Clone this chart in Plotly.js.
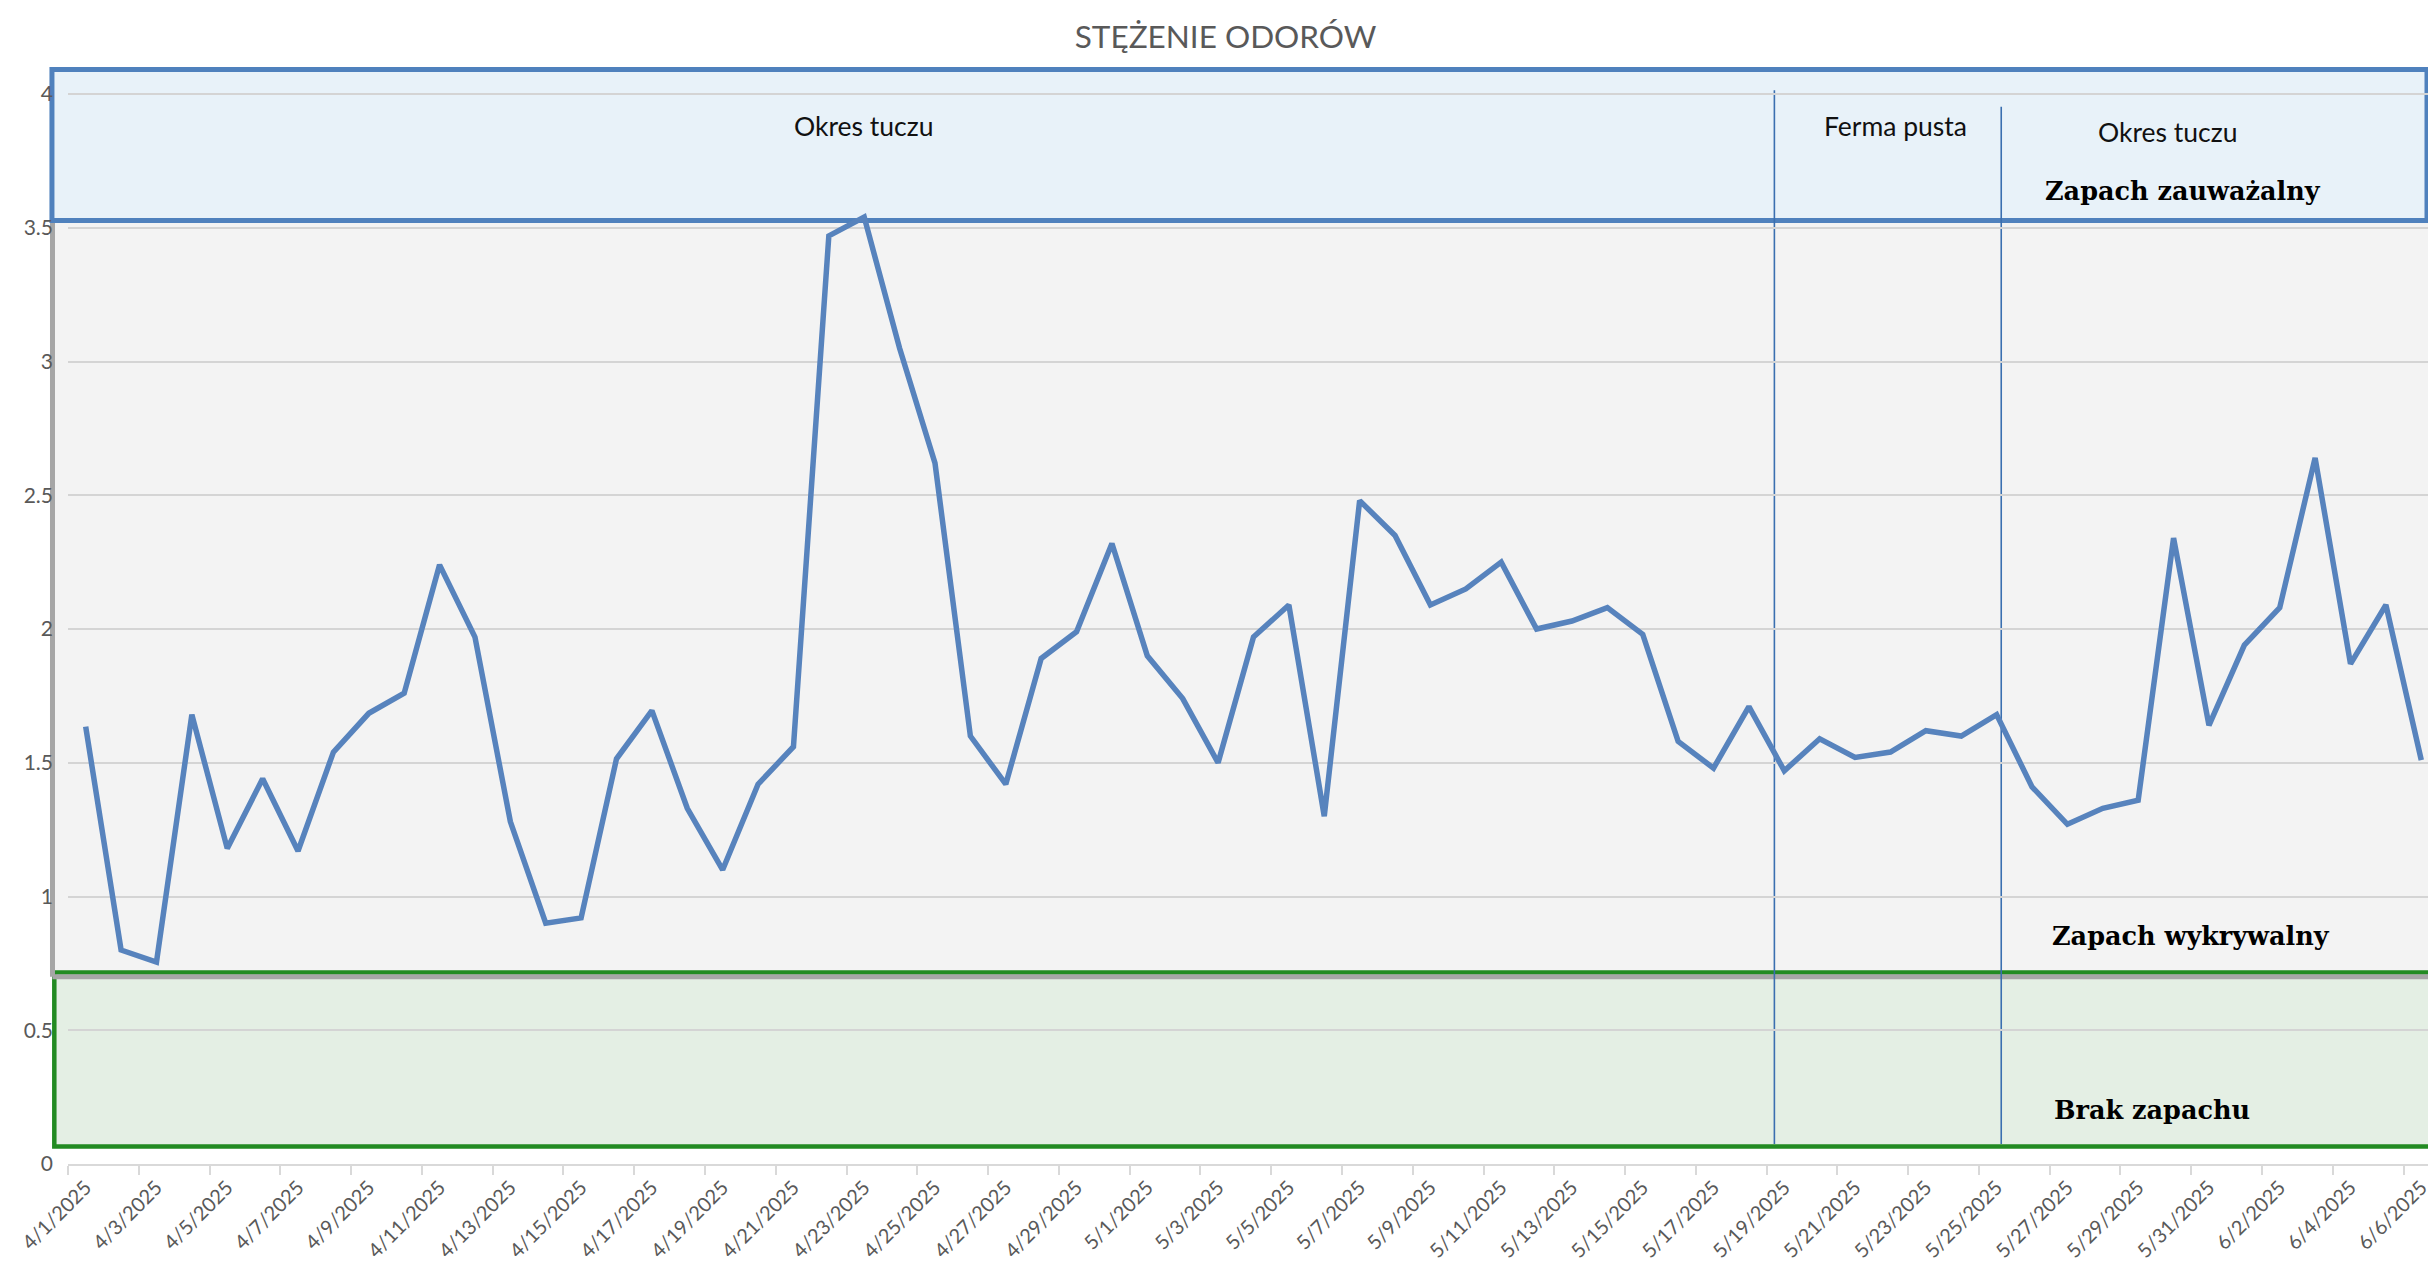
<!DOCTYPE html>
<html>
<head>
<meta charset="utf-8">
<script src="https://cdn.plot.ly/plotly-3.0.1.min.js"></script>
<style>html,body{margin:0;padding:0;background:#fff;}#chart{width:2428px;height:1267px;}</style>
</head>
<body>
<div id="chart"></div>
<script>
const dates = [
  "4/1/2025","4/2/2025","4/3/2025","4/4/2025","4/5/2025","4/6/2025","4/7/2025","4/8/2025","4/9/2025","4/10/2025",
  "4/11/2025","4/12/2025","4/13/2025","4/14/2025","4/15/2025","4/16/2025","4/17/2025","4/18/2025","4/19/2025","4/20/2025",
  "4/21/2025","4/22/2025","4/23/2025","4/24/2025","4/25/2025","4/26/2025","4/27/2025","4/28/2025","4/29/2025","4/30/2025",
  "5/1/2025","5/2/2025","5/3/2025","5/4/2025","5/5/2025","5/6/2025","5/7/2025","5/8/2025","5/9/2025","5/10/2025",
  "5/11/2025","5/12/2025","5/13/2025","5/14/2025","5/15/2025","5/16/2025","5/17/2025","5/18/2025","5/19/2025","5/20/2025",
  "5/21/2025","5/22/2025","5/23/2025","5/24/2025","5/25/2025","5/26/2025","5/27/2025","5/28/2025","5/29/2025","5/30/2025",
  "5/31/2025","6/1/2025","6/2/2025","6/3/2025","6/4/2025","6/5/2025","6/6/2025"
];
const odor = [
  1.635, 0.80, 0.755, 1.68, 1.18, 1.44, 1.17, 1.54, 1.685, 1.76,
  2.24, 1.97, 1.28, 0.90, 0.92, 1.515, 1.695, 1.33, 1.10, 1.42,
  1.56, 3.47, 3.54, 3.05, 2.62, 1.60, 1.42, 1.89, 1.99, 2.32,
  1.90, 1.74, 1.50, 1.97, 2.09, 1.30, 2.48, 2.35, 2.09, 2.15,
  2.25, 2.00, 2.03, 2.08, 1.98, 1.58, 1.48, 1.71, 1.47, 1.59,
  1.52, 1.54, 1.62, 1.60, 1.68, 1.41, 1.27, 1.33, 1.36, 2.34,
  1.64, 1.94, 2.08, 2.64, 1.87, 2.09, 1.51
];
const tickLabels = dates.filter((d, i) => i % 2 === 0);

// odour zones (y bounds)
const zoneNoticeable = [3.527, 4.092];
const zoneDetectable = [0.70, 3.527];
const zoneNone = [0.065, 0.716];
// period separators (category position)
const separators = [{x: 47.72, y1: 4.014}, {x: 54.13, y1: 3.953}];

const sansFont = "Lato, 'Open Sans', sans-serif";
const serifFont = "'DejaVu Serif', 'Liberation Serif', serif";

const trace = {
  x: dates, y: odor, type: 'scatter', mode: 'lines',
  line: {color: '#5783bd', width: 5.5},
  hoverinfo: 'x+y', showlegend: false
};

const shapes = [
  {type: 'rect', layer: 'below', xref: 'paper', yref: 'y', x0: -0.00657, x1: 1.02,
   y0: zoneDetectable[0], y1: zoneDetectable[1], fillcolor: '#f3f3f3', line: {width: 0}},
  {type: 'rect', layer: 'below', xref: 'paper', yref: 'y', x0: -0.0058, x1: 1.02,
   y0: zoneNone[0], y1: zoneNone[1], fillcolor: '#e4efe4', line: {color: '#228b22', width: 4.5}},
  {type: 'line', layer: 'below', xref: 'paper', yref: 'y', x0: -0.00657, x1: -0.00657,
   y0: zoneDetectable[0], y1: zoneDetectable[1], line: {color: '#a6a6a6', width: 5}},
  {type: 'line', layer: 'below', xref: 'paper', yref: 'y', x0: -0.00657, x1: 1.02,
   y0: zoneDetectable[0], y1: zoneDetectable[0], line: {color: '#a6a6a6', width: 5}},
  {type: 'rect', layer: 'below', xref: 'paper', yref: 'y', x0: -0.0068, x1: 0.99958,
   y0: zoneNoticeable[0], y1: zoneNoticeable[1], fillcolor: '#e8f2f9', line: {color: '#4f81bd', width: 5}}
];
separators.forEach(s => shapes.push({
  type: 'line', layer: 'below', xref: 'x', yref: 'y', x0: s.x, x1: s.x, y0: 0.075, y1: s.y1,
  line: {color: '#3a6fb0', width: 1.6}
}));

const annotations = [
  {text: 'Okres tuczu', x: 21.98, y: 3.882, font: {family: sansFont, size: 26.5, color: '#111'}},
  {text: 'Ferma pusta', x: 51.14, y: 3.882, font: {family: sansFont, size: 26.5, color: '#111'}},
  {text: 'Okres tuczu', x: 58.83, y: 3.859, font: {family: sansFont, size: 26.5, color: '#111'}},
  {text: '<b>Zapach zauważalny</b>', x: 59.28, y: 3.637, font: {family: serifFont, size: 25.5, color: '#000'}},
  {text: '<b>Zapach wykrywalny</b>', x: 59.50, y: 0.853, font: {family: serifFont, size: 25.5, color: '#000'}},
  {text: '<b>Brak zapachu</b>', x: 58.40, y: 0.202, font: {family: serifFont, size: 25.5, color: '#000'}}
].map(a => Object.assign({xref: 'x', yref: 'y', showarrow: false, xanchor: 'center', yanchor: 'middle'}, a));

const layout = {
  width: 2428, height: 1267, autosize: false,
  margin: {l: 68, r: 0, t: 62, b: 103, pad: 0},
  paper_bgcolor: '#ffffff', plot_bgcolor: 'rgba(0,0,0,0)',
  showlegend: false,
  title: {text: 'STĘŻENIE ODORÓW', x: 0.4905, xref: 'paper', xanchor: 'center',
          y: 0.9708, yref: 'container', yanchor: 'middle',
          font: {family: sansFont, size: 31.5, color: '#595959'}},
  xaxis: {
    type: 'category', range: [-0.5, 66.19], fixedrange: true,
    tickmode: 'array', tickvals: tickLabels, ticktext: tickLabels,
    tickson: 'boundaries', ticks: 'outside', ticklen: 9, tickwidth: 2, tickcolor: '#d9d9d9',
    showline: true, linecolor: '#d9d9d9', linewidth: 2,
    showgrid: false, zeroline: false, tickangle: -45, automargin: false,
    ticklabelstandoff: 2,
    tickfont: {family: sansFont, size: 20, color: '#595959'}
  },
  yaxis: {
    range: [0, 4.12], fixedrange: true, tickmode: 'linear', tick0: 0, dtick: 0.5,
    showgrid: true, gridcolor: '#d4d4d4', gridwidth: 2,
    zeroline: false, showline: false, ticks: '', ticklabelstandoff: 14, automargin: false,
    tickfont: {family: sansFont, size: 21, color: '#595959'}
  },
  shapes: shapes,
  annotations: annotations
};

Plotly.newPlot('chart', [trace], layout, {displayModeBar: false, staticPlot: true});
</script>
</body>
</html>
